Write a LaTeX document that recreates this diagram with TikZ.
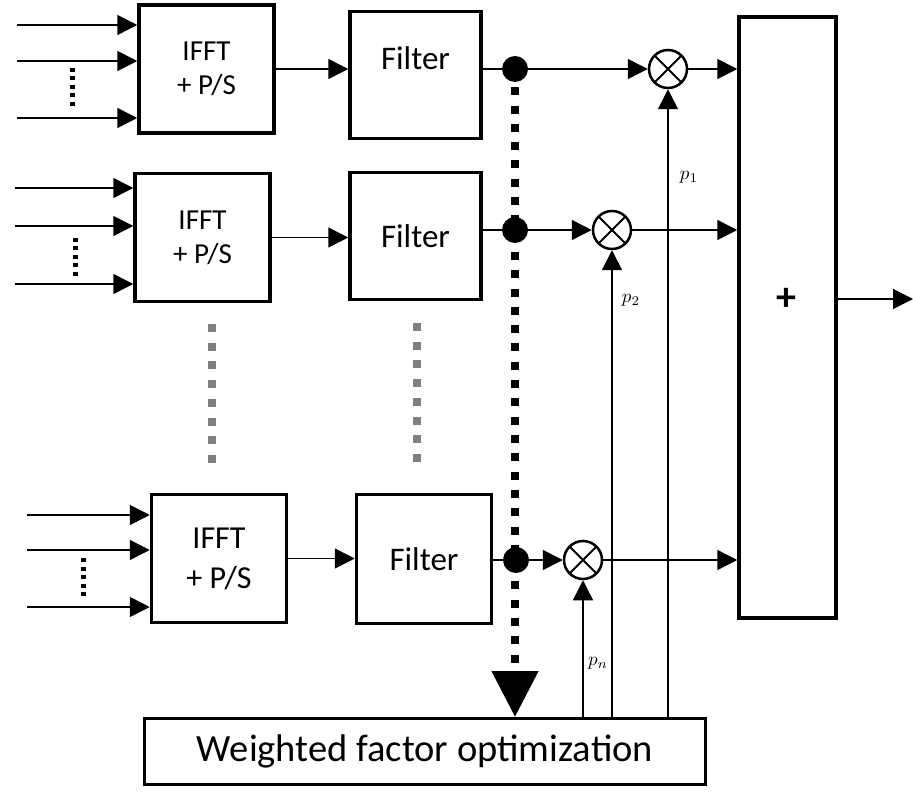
\documentclass[tikz,border=0pt]{standalone}
\usepackage{fontspec}
\setmainfont{Carlito}
\usetikzlibrary{arrows.meta}
\newcommand{\plabel}[1]{\scalebox{1.9}{$#1$}}
\tikzset{
  blk/.style={draw, line width=3.5pt, inner sep=0pt, align=center},
  ifftbox/.style={blk, minimum width=135pt, minimum height=128pt, font=\fontsize{29}{34}\selectfont},
  filterbox/.style={blk, minimum width=131pt, minimum height=127pt, font=\fontsize{33}{40}\selectfont},
  conn/.style={line width=1.5pt, -{Triangle[length=20pt,width=20pt]}},
  plain/.style={line width=1.5pt},
  junct/.style={circle, fill=black, inner sep=0pt, minimum size=26pt},
  mult/.style={circle, draw, line width=2.5pt, inner sep=0pt, minimum size=38pt,
    path picture={\draw[line width=2pt] (path picture bounding box.north west) -- (path picture bounding box.south east)
      (path picture bounding box.north east) -- (path picture bounding box.south west);}},
  plab/.style={inner sep=1pt},
  vdots/.style={line width=5pt, dash pattern=on 4pt off 4.5pt},
  graydash/.style={line width=8pt, draw=black!50, dash pattern=on 8pt off 10.7pt},
  blackdash/.style={line width=8pt, dash pattern=on 8pt off 10.3pt, -{Triangle[length=46pt,width=45pt]}}
}
\begin{document}
\begin{tikzpicture}[x=1pt,y=-1pt]
\useasboundingbox (0,0) rectangle (913,794);

% blocks
\node[ifftbox] (i1) at (206.5,69) {IFFT\\+ P/S};
\node[ifftbox] (i2) at (202.5,237.5) {IFFT\\+ P/S};
\node[ifftbox, font=\fontsize{32}{40}\selectfont] (i3) at (219,558.5) {IFFT\\+ P/S};

\node[filterbox] (f1) at (415.5,75) {};
\node[font=\fontsize{33}{40}\selectfont, inner sep=0pt] (f1t) at (415.5,58) {Filter};
\node[filterbox] (f2) at (415.5,236) {Filter};
\node[filterbox, minimum width=135pt, minimum height=129pt] (f3) at (424,559) {Filter};

\node[blk, minimum width=97pt, minimum height=601pt] (s) at (787.5,317.5) {};
\node[font=\fontsize{40}{40}\selectfont\bfseries, inner sep=0pt] (plus) at (786,299) {+};

\node[blk, line width=3pt, minimum width=561pt, minimum height=66pt, font=\fontsize{38.5}{44}\selectfont] (w) at (425,751.5) {Weighted factor optimization};

% inputs
\coordinate (a11) at (17,25); \coordinate (a12) at (17,61); \coordinate (a13) at (17,118);
\coordinate (a21) at (15,188); \coordinate (a22) at (15,226); \coordinate (a23) at (15,284);
\coordinate (a31) at (27,515); \coordinate (a32) at (27,550); \coordinate (a33) at (27,607);
\foreach \b in {1,2,3}{
  \foreach \k in {1,2,3}{
    \draw[conn] (a\b\k) -- (a\b\k -| i\b.west);
  }
}
\coordinate (v1a) at (72,68); \coordinate (v1b) at (72,109);
\coordinate (v2a) at (75,238); \coordinate (v2b) at (75,280);
\coordinate (v3a) at (83,558); \coordinate (v3b) at (83,599);
\draw[vdots] (v1a) -- (v1b);
\draw[vdots] (v2a) -- (v2b);
\draw[vdots] (v3a) -- (v3b);

% gray continuation dashes
\coordinate (g1a) at (212,324); \coordinate (g1b) at (212,467);
\coordinate (g2a) at (417,323); \coordinate (g2b) at (417,462);
\draw[graydash] (g1a) -- (g1b);
\draw[graydash] (g2a) -- (g2b);

% IFFT -> Filter
\draw[conn] (i1.east) -- (i1.east -| f1.west);
\draw[conn] (i2.east) -- (i2.east -| f2.west);
\draw[conn] (i3.east) -- (i3.east -| f3.west);

% junctions and multipliers
\coordinate (d1c) at (515,69);
\coordinate (d2c) at (515,230);
\coordinate (dnc) at (516,560);
\draw[blackdash] (d1c) -- (d1c |- w.north);
\node[junct] (d1) at (d1c) {};
\node[junct] (d2) at (d2c) {};
\node[junct] (dn) at (dnc) {};

\node[mult] (m1) at (668,69) {};
\node[mult] (m2) at (612,230) {};
\node[mult] (mn) at (583,560) {};

\draw[plain] (d1 -| f1.east) -- (d1);
\draw[plain] (d2 -| f2.east) -- (d2);
\draw[plain] (dn -| f3.east) -- (dn);

\draw[conn] (d1) -- (m1);
\draw[conn] (d2) -- (m2);
\draw[conn] (dn) -- (mn);

\draw[conn] (m1) -- (m1 -| s.west);
\draw[conn] (m2) -- (m2 -| s.west);
\draw[conn] (mn) -- (mn -| s.west);

% weights
\draw[conn] (m1.south |- w.north) -- (m1.south);
\draw[conn] (m2.south |- w.north) -- (m2.south);
\draw[conn] (mn.south |- w.north) -- (mn.south);
\node[plab] (p1) at (689,177) {\plabel{p_1}};
\node[plab] (p2) at (631,300) {\plabel{p_2}};
\node[plab] (pn) at (598,663) {\plabel{p_n}};

% output
\coordinate (out) at (913,299);
\draw[conn] (s.east |- out) -- (out);
\end{tikzpicture}
\end{document}
